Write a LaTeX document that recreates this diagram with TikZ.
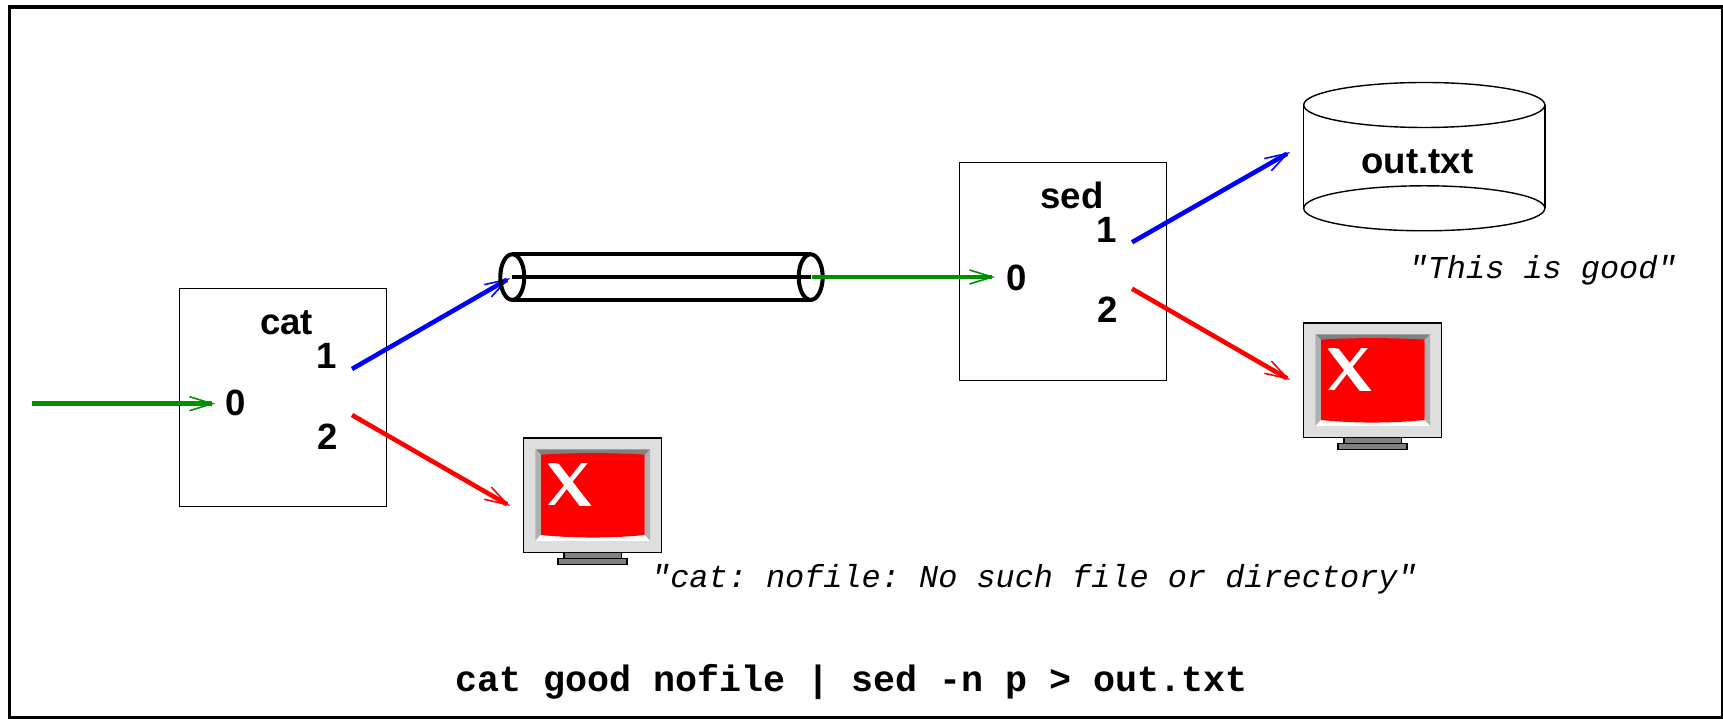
\documentclass[tikz,border=0pt]{standalone}
\usepackage{fontspec}
\setmainfont{Liberation Sans}
\setmonofont{Liberation Mono}
\usetikzlibrary{arrows.meta}
\definecolor{pipegreen}{RGB}{0,144,0}
\definecolor{bezel}{RGB}{222,222,222}
\definecolor{bezelside}{RGB}{176,176,176}
\definecolor{bezeldark}{RGB}{128,128,128}
\tikzset{
         procbox/.style={draw=black,line width=.4pt,inner sep=0pt,minimum width=2.07cm,minimum height=2.18cm},
         fdlabel/.style={font=\fontsize{10.4}{12}\selectfont\bfseries,anchor=base,inner sep=0pt},
         msglabel/.style={font=\fontsize{9.07}{11}\selectfont\ttfamily\itshape,anchor=base west,inner sep=0pt},
         stream/.style={line width=1.3pt,-{Straight Barb[length=6.5pt,width=4pt,line width=.45pt]}},
         pipeline/.style={line width=1.15pt},
         monitor/.pic={
          \draw[line width=.4pt,fill=bezeldark] (40.3,114.7) rectangle (98,120.3); %stand
          \draw[line width=.4pt,fill=bezeldark] (34.3,120.3) rectangle (103.3,126.3); %base
          \draw[line width=.4pt,fill=bezel] (0,0) rectangle (138,114.7); %case
          \fill[bezeldark] (11.7,11.3) -- (126.3,11.3) -- (121,17) -- (17.3,17) -- cycle;
          \fill[bezelside] (11.7,11.3) -- (17.3,17) -- (17.3,97) -- (11.7,103) -- cycle;
          \fill[bezelside] (126.3,11.3) -- (121,17) -- (121,97) -- (126.3,103) -- cycle;
          \fill[white] (11.7,103) -- (17.3,97) -- (121,97) -- (126.3,103) -- cycle;
          \fill[red] (17.3,16.7) .. controls (50,14.6) and (88,14.6) .. (121,16.7)
                     -- (121,97) .. controls (88,100.4) and (50,100.4) .. (17.3,97) -- cycle; %screen
          \fill[white] (24,25.7) -- (35,25.7) -- (67.7,68) -- (56,68) -- cycle; %heavy stroke of the X
          \node[white,anchor=base,inner sep=0pt,xscale=1.18,font=\fontsize{17.2}{20}\selectfont\sffamily] (mark) at (45.8,68) {X};
         }
        }

\begin{document}
\begin{tikzpicture}[x=.01cm,y=-.01cm]
\useasboundingbox (0,0) rectangle (1723,719);

\draw[line width=1pt] (9.5,7) rectangle (1723,717.5); %frame

%processes
\node[procbox] (catbox) at (283,397.4) {};
\node[procbox] (sedbox) at (1063.2,271.5) {};
\node[fdlabel] (catname) at (286.5,335) {cat};
\node[fdlabel] (catin) at (236,416) {0};
\node[fdlabel] (catout) at (327,368.7) {1};
\node[fdlabel] (caterr) at (327.5,450) {2};
\node[fdlabel] (sedname) at (1072,209) {sed};
\node[fdlabel] (sedin) at (1017,291) {0};
\node[fdlabel] (sedout) at (1107,243) {1};
\node[fdlabel] (sederr) at (1108,322.7) {2};

%streams
\coordinate (stdin) at (32,403.7);
\coordinate (catread) at (215,403.7);
\coordinate (catstdout) at (352,369);
\coordinate (pipein) at (510,278);
\coordinate (catstderr) at (352,415);
\coordinate (catterm) at (510,506);
\coordinate (pipeout) at (812,277);
\coordinate (sedread) at (995,277);
\coordinate (sedstdout) at (1132,242.3);
\coordinate (filein) at (1290,152);
\coordinate (sedstderr) at (1132,288.7);
\coordinate (sedterm) at (1290,380);
\draw[stream,pipegreen] (stdin) -- (catread);
\draw[stream,blue] (catstdout) -- (pipein);
\draw[stream,red] (catstderr) -- (catterm);
\draw[stream,blue] (sedstdout) -- (filein);
\draw[stream,red] (sedstderr) -- (sedterm);

%pipe
\draw[pipeline] (512.3,254.3) -- (810.7,254.3);
\draw[pipeline] (512.3,300) -- (810.7,300);
\draw[pipeline] (512.3,277) -- (810.7,277);
\draw[pipeline] (512.3,277.1) ellipse [x radius=12,y radius=22.8];
\draw[pipeline] (810.7,277.1) ellipse [x radius=12,y radius=22.8];
\draw[stream,pipegreen] (pipeout) -- (sedread);

%file
\draw[line width=.4pt] (1303.7,105) -- (1303.7,208.3);
\draw[line width=.4pt] (1545,105) -- (1545,208.3);
\draw[line width=.4pt] (1424.3,105) ellipse [x radius=120.6,y radius=22.5];
\draw[line width=.4pt] (1424.3,208.3) ellipse [x radius=120.6,y radius=22.5];
\node[fdlabel] (outfile) at (1417.5,174) {out.txt};

%terminals
\pic (catscreen) at (523.7,438) {monitor};
\pic (sedscreen) at (1303.7,323) {monitor};

%messages
\node[msglabel] (goodmsg) at (1408,278.5) {"This is good"};
\node[msglabel] (errmsg) at (650.5,588) {"cat: nofile: No such file or directory"};
\node[anchor=base,inner sep=0pt,font=\fontsize{10.43}{13}\selectfont\ttfamily\bfseries] (cmdline) at (851.5,691.5) {cat good nofile | sed -n p > out.txt};

\end{tikzpicture}
\end{document}
